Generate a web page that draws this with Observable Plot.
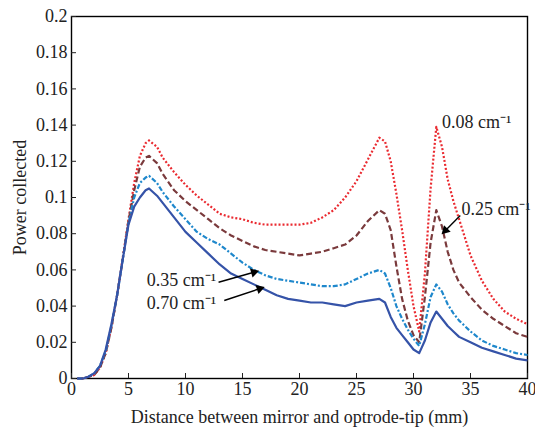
<!DOCTYPE html>
<html>
<head>
<meta charset="utf-8">
<script src="https://cdn.jsdelivr.net/npm/d3@7"></script>
<script src="https://cdn.jsdelivr.net/npm/@observablehq/plot@0.6"></script>
<style>
  html, body { margin: 0; padding: 0; background: #fff; }
  #chart svg { display: block; }
  #chart svg, #chart svg text { font-family: 'Liberation Serif', 'Times New Roman', serif !important; }
</style>
</head>
<body>
<div id="chart"></div>
<script>
// Distance (mm)
const xs = [0.5,1,1.5,2,2.5,3,3.5,4,4.5,5,5.5,6,6.5,6.8,7.5,8,9,10,11,12,13,14,15,16,17,18,19,20,21,22,23,24,25,26,27,27.5,28,28.5,29,29.5,30,30.5,31,31.5,32,32.5,33,33.5,34,35,36,37,38,39,40];

// Power collected, one array per absorption coefficient
const p008 = [0,0,0.001,0.002,0.006,0.014,0.028,0.046,0.067,0.088,0.108,0.123,0.130,0.1315,0.128,0.122,0.114,0.107,0.101,0.096,0.091,0.089,0.088,0.086,0.085,0.085,0.085,0.085,0.086,0.089,0.093,0.100,0.109,0.121,0.133,0.131,0.120,0.102,0.082,0.060,0.040,0.026,0.058,0.105,0.139,0.128,0.110,0.098,0.088,0.068,0.054,0.044,0.037,0.033,0.030];
const p025 = [0,0,0.001,0.002,0.006,0.014,0.028,0.046,0.066,0.087,0.104,0.117,0.122,0.123,0.119,0.113,0.104,0.098,0.093,0.088,0.083,0.079,0.076,0.073,0.071,0.070,0.069,0.068,0.069,0.070,0.072,0.074,0.079,0.087,0.093,0.091,0.082,0.062,0.044,0.032,0.024,0.020,0.045,0.075,0.093,0.084,0.070,0.060,0.053,0.045,0.038,0.033,0.029,0.025,0.023];
const p035 = [0,0,0.001,0.003,0.007,0.015,0.029,0.046,0.066,0.086,0.100,0.108,0.111,0.112,0.108,0.103,0.095,0.088,0.081,0.077,0.074,0.069,0.064,0.060,0.057,0.055,0.054,0.053,0.052,0.051,0.051,0.052,0.055,0.058,0.060,0.058,0.050,0.040,0.033,0.027,0.022,0.018,0.030,0.045,0.052,0.048,0.041,0.036,0.032,0.026,0.021,0.018,0.016,0.014,0.013];
const p070 = [0,0,0.001,0.003,0.007,0.016,0.030,0.046,0.066,0.085,0.095,0.100,0.104,0.105,0.101,0.097,0.089,0.081,0.075,0.069,0.063,0.058,0.055,0.052,0.049,0.046,0.044,0.043,0.042,0.042,0.041,0.040,0.042,0.043,0.044,0.042,0.034,0.028,0.024,0.020,0.016,0.014,0.021,0.031,0.037,0.033,0.029,0.026,0.023,0.020,0.017,0.015,0.013,0.011,0.010];

const seriesNames = ["0.08 cm\u207B\u00B9", "0.25 cm\u207B\u00B9", "0.35 cm\u207B\u00B9", "0.70 cm\u207B\u00B9"];
const seriesValues = [p008, p025, p035, p070];
const seriesColors = ["#ea2a30", "#7a3a3c", "#1f88cc", "#3553a8"];
const seriesDash = ["2,2", "6,3", "5,2,2,2", null];

const xTicks = [0,5,10,15,20,25,30,35,40];
const yTicks = [0,0.02,0.04,0.06,0.08,0.1,0.12,0.14,0.16,0.18,0.2];

// Labels (text anchor in data coordinates) and arrows
const labelX = [32.5, 34.2, 6.6, 6.6];
const labelY = [0.1414, 0.0937, 0.0545, 0.0416];
const arrowX1 = [34.1, 12.9, 13.4];
const arrowY1 = [0.090, 0.0532, 0.0431];
const arrowX2 = [32.8, 16.0, 16.5];
const arrowY2 = [0.0818, 0.0587, 0.0496];

const lineData = seriesValues.map((vals, i) => xs.map((x, j) => ({x, y: vals[j], s: i})));
const labels = seriesNames.map((name, i) => ({name, x: labelX[i], y: labelY[i]}));
const arrows = arrowX1.map((x1, i) => ({x1, y1: arrowY1[i], x2: arrowX2[i], y2: arrowY2[i], angle: 0}));

const font = "'Liberation Serif', 'Times New Roman', serif";

function build() {
  const marks = [
    Plot.frame({stroke: "#000", strokeWidth: 1.4}),
    Plot.axisX({ticks: xTicks, tickSize: -5, tickPadding: 9, tickFormat: d => String(d), fontSize: 18,
      label: "Distance between mirror and optrode-tip (mm)", labelAnchor: "center", labelOffset: 44, labelArrow: "none"}),
    Plot.axisY({ticks: yTicks, tickSize: -5, tickPadding: 9, tickFormat: d => String(+d.toFixed(2)), fontSize: 18,
      label: "Power collected", labelAnchor: "center", labelOffset: 58, labelArrow: "none"}),
  ];
  lineData.forEach((data, i) => {
    marks.push(Plot.line(data, {x: "x", y: "y", stroke: seriesColors[i], strokeWidth: 2.2,
      strokeDasharray: seriesDash[i], strokeLinecap: "butt", strokeLinejoin: "round", curve: "linear"}));
  });
  marks.push(
    Plot.link(arrows, {x1: "x1", y1: "y1", x2: "x2", y2: "y2", stroke: "#000", strokeWidth: 1.4}),
    Plot.dot(arrows, {x: "x2", y: "y2", symbol: "triangle2", r: 4.5, fill: "#000", stroke: null, rotate: "angle"}),
    Plot.text(labels, {x: "x", y: "y", text: "name", textAnchor: "start", fontSize: 18, fill: "#222", fontFamily: font})
  );
  return Plot.plot({
    width: 535,
    height: 427,
    marginLeft: 71,
    marginRight: 8,
    marginTop: 16,
    marginBottom: 49,
    style: {fontFamily: font, fontSize: "18px", color: "#222", background: "#fff"},
    x: {domain: [0, 40]},
    y: {domain: [0, 0.2]},
    marks
  });
}

// First pass to get the scales, then orient the arrow heads in screen space
const first = build();
const sx = first.scale("x"), sy = first.scale("y");
arrows.forEach(a => {
  const dx = sx.apply(a.x2) - sx.apply(a.x1);
  const dy = sy.apply(a.y2) - sy.apply(a.y1);
  a.angle = Math.atan2(dx, -dy) * 180 / Math.PI;
});
document.getElementById("chart").appendChild(build());
</script>
</body>
</html>
